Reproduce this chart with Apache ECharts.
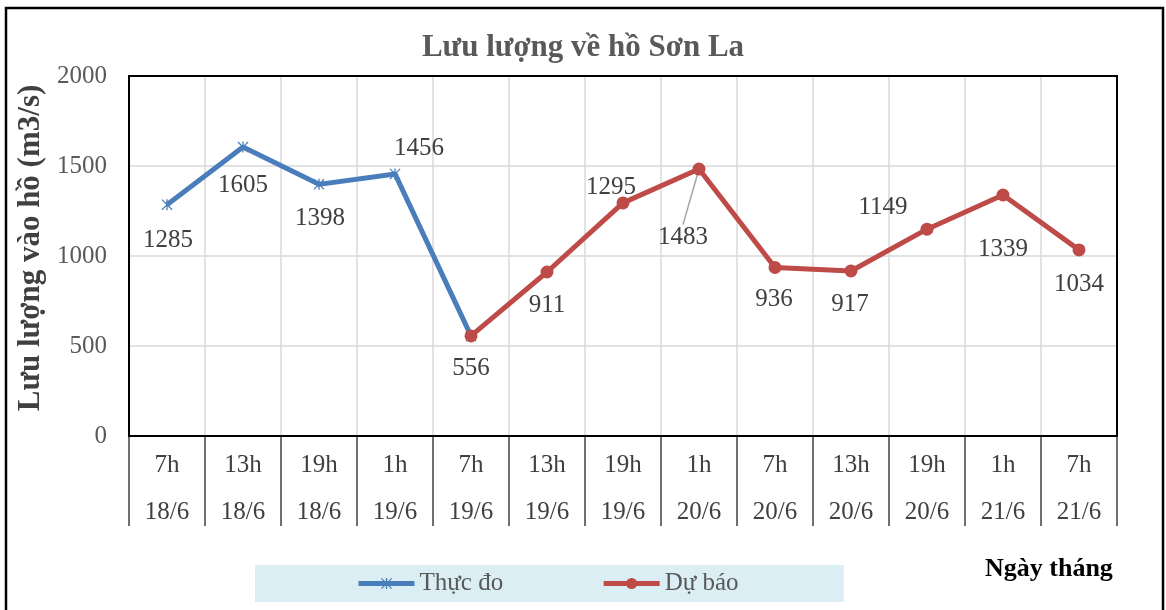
<!DOCTYPE html>
<html>
<head>
<meta charset="utf-8">
<script src="https://cdn.jsdelivr.net/npm/echarts@6/dist/echarts.min.js"></script>
<style>
  html, body { margin: 0; padding: 0; background: #fff; }
  #chart { width: 1166px; height: 610px; }
</style>
</head>
<body>
<div id="chart"></div>
<script>
// categories: hour + date
const hours = ['7h', '13h', '19h', '1h', '7h', '13h', '19h', '1h', '7h', '13h', '19h', '1h', '7h']
const dates = ['18/6', '18/6', '18/6', '19/6', '19/6', '19/6', '19/6', '20/6', '20/6', '20/6', '20/6', '21/6', '21/6']
const measured = [1285, 1605, 1398, 1456, 556, null, null, null, null, null, null, null, null]
const forecast = [null, null, null, null, 556, 911, 1295, 1483, 936, 917, 1149, 1339, 1034]
const yTicks = [0, 500, 1000, 1500, 2000]

// label offsets (dx, dy) from the point, as placed in the picture
const measuredOffsets = [[1, 36], [0, 38], [1, 34], [24, -25], [0, 0]]
const forecastOffsets = [[0, 0], [0, 0], [0, 0], [0, 0], [0, 33], [0, 33], [-12, -15], [-16, 68], [-1, 32], [-1, 33], [-44, -22], [0, 54], [0, 35]]
const leaderIdx = 7 // 1483 has a guide line

const FONT = 'Liberation Serif'
const chart = echarts.init(document.getElementById('chart'))

const asterisk = 'path://M4.4 0h1.2v10h-1.2z M0.8 0L10 9.2L9.2 10L0 0.8z M9.2 0L10 0.8L0.8 10L0 9.2z'

function points(values, hideIdx) {
  return values.map((v, i) => {
    if (v == null) return '-'
    const item = { value: v }
    if (hideIdx.includes(i)) item.label = { show: false }
    return item
  })
}

const forecastData = points(forecast, [])
forecastData[leaderIdx].labelLine = { show: true, lineStyle: { color: '#a6a6a6', width: 1.5 } }

const labelStyle = { show: true, position: 'inside', fontFamily: FONT, fontSize: 25, color: '#404040' }

const option = {
  backgroundColor: '#fff',
  animation: false,
  title: {
    text: 'Lưu lượng về hồ Sơn La',
    left: 'center',
    top: 27,
    textStyle: { fontFamily: FONT, fontSize: 31, fontWeight: 'bold', color: '#595959' },
  },
  legend: {
    left: 255,
    top: 565,
    backgroundColor: '#DAEEF3',
    padding: [6, 105, 6, 101],
    itemWidth: 56,
    itemHeight: 14,
    itemGap: 98,
    textStyle: { fontFamily: FONT, fontSize: 25, color: '#595959' },
    data: [
      { name: 'Thực đo', lineStyle: { width: 5 } },
      { name: 'Dự báo', lineStyle: { width: 5 } },
    ],
  },
  graphic: [
    {
      type: 'rect',
      shape: { x: 6, y: 8, width: 1157, height: 640 },
      style: { fill: 'none', stroke: '#000', lineWidth: 2.5 },
      z: 100,
    },
    {
      type: 'text',
      left: 985,
      top: 556,
      style: { text: 'Ngày tháng', fill: '#000', font: 'bold 26px "Liberation Serif"' },
    },
  ],
  grid: {
    left: 129,
    right: 49,
    top: 76,
    bottom: 174,
    show: true,
    borderColor: '#000',
    borderWidth: 2,
    z: 5,
  },
  xAxis: {
    type: 'category',
    data: hours.map((h, i) => h + '\n' + dates[i]),
    boundaryGap: true,
    axisLine: { lineStyle: { color: '#000', width: 2 } },
    axisTick: { show: true, interval: 0, length: 90, lineStyle: { color: '#404040', width: 1.5 } },
    axisLabel: { interval: 0, fontFamily: FONT, fontSize: 25, color: '#404040', lineHeight: 47, margin: 6 },
    splitLine: { show: true, interval: 0, showMinLine: false, showMaxLine: false, lineStyle: { color: '#d9d9d9', width: 1.5 } },
  },
  yAxis: {
    type: 'value',
    min: yTicks[0],
    max: yTicks[yTicks.length - 1],
    interval: 500,
    name: 'Lưu lượng vào hồ (m3/s)',
    nameLocation: 'middle',
    nameGap: 80,
    nameTextStyle: { fontFamily: FONT, fontSize: 31, fontWeight: 'bold', color: '#404040', padding: [0, 0, 0, 16] },
    axisLine: { show: false },
    axisTick: { show: false },
    axisLabel: { fontFamily: FONT, fontSize: 25, color: '#595959', margin: 22, formatter: v => String(v) },
    splitLine: { showMinLine: false, showMaxLine: false, lineStyle: { color: '#d9d9d9', width: 1.5 } },
  },
  series: [
    {
      name: 'Thực đo',
      type: 'line',
      data: points(measured, [4]),
      symbol: asterisk,
      symbolSize: 11,
      lineStyle: { color: '#4A7EBB', width: 5 },
      itemStyle: { color: '#4A7EBB' },
      label: labelStyle,
      labelLayout: p => ({ dx: measuredOffsets[p.dataIndex][0], dy: measuredOffsets[p.dataIndex][1] }),
      z: 2,
    },
    {
      name: 'Dự báo',
      type: 'line',
      data: forecastData,
      symbol: 'circle',
      symbolSize: 13,
      lineStyle: { color: '#BE4B48', width: 5 },
      itemStyle: { color: '#BE4B48' },
      label: labelStyle,
      labelLayout: p => ({ dx: forecastOffsets[p.dataIndex][0], dy: forecastOffsets[p.dataIndex][1] }),
      z: 3,
    },
  ],
}

chart.setOption(option)
</script>
</body>
</html>
